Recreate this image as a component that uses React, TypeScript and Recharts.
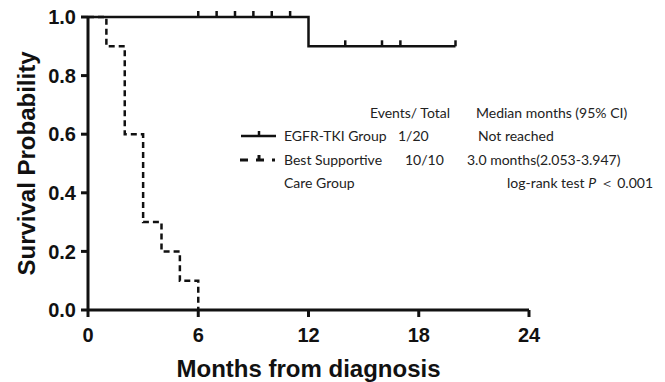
import React from 'react';
import { ComposedChart, Line, Scatter, XAxis, YAxis, Customized } from 'recharts';

// Kaplan-Meier steps
const egfrTimes = [0, 12, 20];
const egfrSurv = [1, 0.9, 0.9];
const bscTimes = [0, 1, 2, 3, 4, 5, 6];
const bscSurv = [1, 0.9, 0.6, 0.3, 0.2, 0.1, 0];

// censored observations (EGFR-TKI group)
const censorTimes = [6, 7, 8, 9, 10, 11, 14, 16, 17, 20];
const censorSurv = [1, 1, 1, 1, 1, 1, 0.9, 0.9, 0.9, 0.9];

const xTicks = [0, 6, 12, 18, 24];
const yTicks = [0, 0.2, 0.4, 0.6, 0.8, 1.0];

const groupNames = ['EGFR-TKI Group', 'Best Supportive'];
const eventsTotal = ['1/20', '10/10'];
const medians = ['Not reached', '3.0 months(2.053-3.947)'];

const egfrData = egfrTimes.map((t, i) => ({ t, s: egfrSurv[i] }));
const bscData = bscTimes.map((t, i) => ({ t, s: bscSurv[i] }));
const censorData = censorTimes.map((t, i) => ({ t, s: censorSurv[i] }));

const AXIS_FONT = '"Liberation Sans", Arial, sans-serif';
const LEGEND_FONT = 'Lato, "Open Sans", sans-serif';
const STROKE = '#111';

const CensorTick = (props: any) => {
    const { cx, cy } = props;
    if (cx == null || cy == null) return null;
    return <line x1={cx} x2={cx} y1={cy} y2={cy - 6} stroke={STROKE} strokeWidth={2.5} />;
};

const YTitle = (props: any) => {
    const { viewBox } = props;
    const cx = 26;
    const cy = viewBox.y + viewBox.height / 2;
    return (
        <text
            x={cx}
            y={cy}
            transform={`rotate(-90, ${cx}, ${cy})`}
            textAnchor="middle"
            dominantBaseline="central"
            fontFamily={AXIS_FONT}
            fontWeight="bold"
            fontSize={24}
            fill={STROKE}
        >
            Survival Probability
        </text>
    );
};

const LegendBlock = () => {
    const fs = 14;
    const common = { fontFamily: LEGEND_FONT, fontSize: fs, fill: '#222' };
    return (
        <g>
            <text x={450} y={118} textAnchor="end" {...common}>Events/ Total</text>
            <text x={476} y={118} {...common}>Median months (95% CI)</text>

            <line x1={241} x2={276} y1={136} y2={136} stroke={STROKE} strokeWidth={2.5} />
            <line x1={259} x2={259} y1={136} y2={131} stroke={STROKE} strokeWidth={2.5} />
            <text x={284} y={141} {...common}>{groupNames[0]}</text>
            <text x={398} y={141} {...common}>{eventsTotal[0]}</text>
            <text x={478} y={141} {...common}>{medians[0]}</text>

            <line x1={240} x2={275} y1={160} y2={160} stroke={STROKE} strokeWidth={3} strokeDasharray="8 8" />
            <line x1={259} x2={259} y1={160} y2={155} stroke={STROKE} strokeWidth={3} />
            <text x={284} y={165} {...common}>{groupNames[1]}</text>
            <text x={405} y={165} {...common}>{eventsTotal[1]}</text>
            <text x={467} y={165} {...common}>{medians[1]}</text>

            <text x={284} y={188} {...common}>Care Group</text>
            <text x={653} y={188} textAnchor="end" {...common}>
                log-rank test <tspan fontStyle="italic">P</tspan> ＜ 0.001
            </text>
        </g>
    );
};

export default function App() {
    return (
        <div style={{ position: 'absolute', left: 0, top: 0, background: '#fff' }}>
            <ComposedChart
                width={665}
                height={382}
                margin={{ top: 17, right: 136, bottom: 0, left: 0 }}
            >
                <XAxis
                    dataKey="t"
                    type="number"
                    domain={[0, 24]}
                    ticks={xTicks}
                    allowDataOverflow
                    height={72}
                    tickSize={7}
                    tickMargin={11}
                    stroke={STROKE}
                    strokeWidth={3}
                    tick={{ fill: STROKE, fontFamily: AXIS_FONT, fontWeight: 'bold', fontSize: 20 }}
                    label={{
                        value: 'Months from diagnosis',
                        position: 'insideBottom',
                        offset: 5,
                        fill: STROKE,
                        fontFamily: AXIS_FONT,
                        fontWeight: 'bold',
                        fontSize: 24,
                    }}
                />
                <YAxis
                    dataKey="s"
                    type="number"
                    domain={[0, 1]}
                    ticks={yTicks}
                    width={88}
                    tickSize={7}
                    tickMargin={5}
                    stroke={STROKE}
                    strokeWidth={3}
                    tickFormatter={(v: number) => v.toFixed(1)}
                    tick={{ fill: STROKE, fontFamily: AXIS_FONT, fontWeight: 'bold', fontSize: 20 }}
                    label={{ content: YTitle }}
                />
                <Line
                    data={egfrData}
                    dataKey="s"
                    type="stepAfter"
                    stroke={STROKE}
                    strokeWidth={2.5}
                    dot={false}
                    activeDot={false}
                    isAnimationActive={false}
                />
                <Line
                    data={bscData}
                    dataKey="s"
                    type="stepAfter"
                    stroke={STROKE}
                    strokeWidth={2.5}
                    strokeDasharray="6 4"
                    dot={false}
                    activeDot={false}
                    isAnimationActive={false}
                />
                <Scatter
                    data={censorData}
                    dataKey="s"
                    shape={CensorTick}
                    isAnimationActive={false}
                />
                <Customized component={LegendBlock} />
            </ComposedChart>
        </div>
    );
}
